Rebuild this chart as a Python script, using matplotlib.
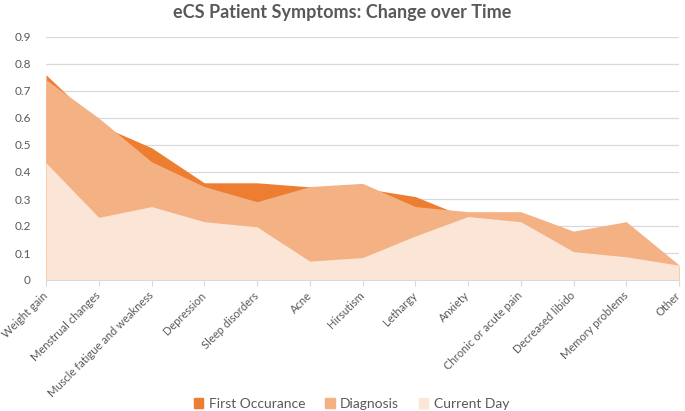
import matplotlib.pyplot as plt
from matplotlib.patches import Patch

plt.rcParams['font.family'] = ['Lato', 'DejaVu Sans']

symptoms = ['Weight gain', 'Menstrual changes', 'Muscle fatigue and weakness',
            'Depression', 'Sleep disorders', 'Acne', 'Hirsutism', 'Lethargy',
            'Anxiety', 'Chronic or acute pain', 'Decreased libido',
            'Memory problems', 'Other']
first_occurance = [0.76, 0.575, 0.49, 0.36, 0.36, 0.345, 0.34, 0.309,
                   0.23, 0.23, 0.15, 0.2, 0.05]
diagnosis = [0.742, 0.6, 0.438, 0.346, 0.29, 0.346, 0.358, 0.272,
             0.253, 0.253, 0.181, 0.216, 0.056]
current_day = [0.434, 0.232, 0.272, 0.216, 0.197, 0.07, 0.083, 0.163,
               0.235, 0.216, 0.105, 0.086, 0.055]

c_first = '#ED7D31'
c_diag = '#F4B183'
c_curr = '#FBE5D6'
grey = '#595959'

fig = plt.figure(figsize=(6.85, 4.11), dpi=100)
ax = fig.add_axes([46 / 685, 1 - 280 / 411, 633 / 685, 243 / 411])

x = list(range(len(symptoms)))
ax.fill_between(x, 0, first_occurance, color=c_first, lw=0)
ax.fill_between(x, 0, diagnosis, color=c_diag, lw=0)
ax.fill_between(x, 0, current_day, color=c_curr, lw=0)

ax.set_xlim(0, len(symptoms) - 1)
ax.set_ylim(0, 0.9)
ax.set_yticks([i / 10 for i in range(10)])
ax.set_yticklabels(['0'] + ['0.%d' % i for i in range(1, 10)])
ax.yaxis.grid(True, color='#D9D9D9', lw=0.9)
ax.set_axisbelow(True)
for s in ['top', 'right', 'left']:
    ax.spines[s].set_visible(False)
ax.spines['bottom'].set_color('#D9D9D9')
ax.tick_params(axis='y', length=0, colors=grey, labelsize=8.5, pad=11)
ax.tick_params(axis='x', length=4, color='#D9D9D9', colors=grey,
               labelsize=8, pad=6)
ax.set_xticks(x)
ax.set_xticklabels(symptoms, rotation=45, ha='right', va='center',
                   rotation_mode='anchor')

fig.suptitle('eCS Patient Symptoms: Change over Time', y=0.99,
             fontsize=13, fontweight='bold', color=grey)

handles = [Patch(color=c_first, label='First Occurance'),
           Patch(color=c_diag, label='Diagnosis'),
           Patch(color=c_curr, label='Current Day')]
fig.legend(handles=handles, loc='center', bbox_to_anchor=(0.513, 0.017),
           ncol=3, frameon=False, fontsize=10, labelcolor=grey,
           handlelength=0.7, handleheight=0.7, handletextpad=0.4,
           columnspacing=1.4)

fig.savefig('out.png', dpi=100)
